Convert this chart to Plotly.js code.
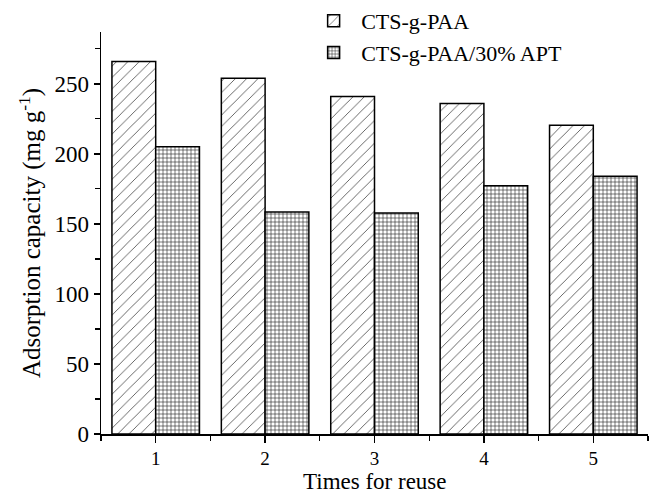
<!DOCTYPE html>
<html>
<head>
<meta charset="utf-8">
<script src="https://cdn.plot.ly/plotly-3.0.1.min.js"></script>
<style>html,body{margin:0;padding:0;background:#fff;}#chart{width:649px;height:496px;}</style>
</head>
<body>
<div id="chart"></div>
<script>
var categories = [1, 2, 3, 4, 5];
var tickLabels = ["1", "2", "3", "4", "5"];
var seriesNames = ["CTS-g-PAA", "CTS-g-PAA/30% APT"];
var ctsPaa = [266, 254, 241, 236, 220.5];
var ctsPaaApt = [205, 158.5, 157.7, 177.3, 184];
var xTitle = "Times for reuse";
var yTitle = "Adsorption capacity (mg g<sup>-1</sup>)";

var font = "Liberation Serif, Times New Roman, serif";

var traces = [
  {
    type: "bar",
    name: seriesNames[0],
    x: categories,
    y: ctsPaa,
    marker: {
      color: "#ffffff",
      line: {color: "#000000", width: 1.5},
      pattern: {shape: "/", size: 8, solidity: 0.1, fgcolor: "#444444", bgcolor: "#ffffff"}
    }
  },
  {
    type: "bar",
    name: seriesNames[1],
    x: categories,
    y: ctsPaaApt,
    marker: {
      color: "#ffffff",
      line: {color: "#000000", width: 1.5},
      pattern: {shape: "+", size: 4, solidity: 0.28, fgcolor: "#222222", bgcolor: "#ffffff"}
    }
  }
];

var layout = {
  width: 649,
  height: 496,
  margin: {l: 101, r: 1, t: 31, b: 62},
  paper_bgcolor: "#ffffff",
  plot_bgcolor: "#ffffff",
  barmode: "group",
  bargap: 0.2,
  bargroupgap: 0,
  font: {family: font, color: "#000000"},
  showlegend: true,
  legend: {
    x: 0.375, y: 1.078, xanchor: "left", yanchor: "top",
    bgcolor: "rgba(0,0,0,0)",
    font: {family: font, size: 22, color: "#000000"},
    tracegroupgap: 0,
    itemwidth: 45
  },
  annotations: [
    {
      text: xTitle, xref: "paper", yref: "paper", x: 0.5, y: -0.153,
      xanchor: "center", yanchor: "bottom", showarrow: false,
      font: {family: font, size: 23, color: "#000000"}
    }
  ],
  xaxis: {
    range: [0.5, 5.5],
    tickmode: "array",
    tickvals: categories,
    ticktext: tickLabels,
    showgrid: false,
    zeroline: false,
    showline: true,
    linecolor: "#000000",
    linewidth: 1.5,
    ticks: "outside",
    ticklen: 7,
    tickwidth: 1.5,
    tickcolor: "#000000",
    minor: {tickvals: [0.5, 1.5, 2.5, 3.5, 4.5, 5.5], ticks: "outside", ticklen: 5, tickwidth: 1.2, tickcolor: "#000000", showgrid: false},
    tickfont: {family: font, size: 19, color: "#000000"}
  },
  yaxis: {
    range: [0, 287],
    tickvals: [0, 50, 100, 150, 200, 250],
    showgrid: false,
    zeroline: false,
    showline: true,
    linecolor: "#000000",
    linewidth: 1.5,
    ticks: "outside",
    ticklen: 6,
    tickwidth: 1.5,
    tickcolor: "#000000",
    minor: {tickvals: [25, 75, 125, 175, 225, 275], ticks: "outside", ticklen: 5, tickwidth: 1.2, tickcolor: "#000000", showgrid: false},
    tickfont: {family: font, size: 23, color: "#000000"},
    title: {text: yTitle, font: {family: font, size: 25, color: "#000000"}, standoff: 6}
  }
};

Plotly.newPlot("chart", traces, layout, {displayModeBar: false, staticPlot: true});
</script>
</body>
</html>
